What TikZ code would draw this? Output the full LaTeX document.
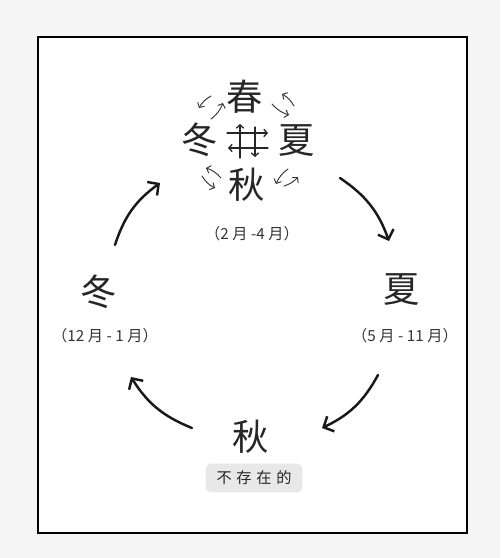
\documentclass[tikz,border=0pt]{standalone}
\usepackage{fontspec}
\newfontfamily\cjk{Noto Sans CJK SC}
\usetikzlibrary{arrows.meta}

\newcommand{\gp}{\hspace{3pt}}

\begin{document}
\begin{tikzpicture}[x=0.03cm, y=-0.03cm, line cap=round,
    big/.style={font=\cjk\fontsize{31}{31}\selectfont, text=black!85, inner sep=0pt},
    months/.style={font=\cjk\fontsize{13}{13}\selectfont, text=black!80, inner sep=0pt},
    note/.style={font=\cjk\fontsize{13}{13}\selectfont, text=black!85, fill=gray!18,
        rounded corners=5pt, minimum width=97*0.85pt, minimum height=29*0.85pt},
    cycle/.style={-{Straight Barb[length=2.4mm, width=5mm]}, line width=2.1pt, black!90},
    tiny/.style={-{Straight Barb[length=1.1mm, width=2.4mm]}, line width=0.8pt, black!80},
    hash/.style={-{Straight Barb[length=1mm, width=2.2mm]}, line width=1.1pt, black!85}]

            % page and frame
            \fill[gray!8] (0,0) rectangle (500,558);
            \draw[line width=2.4pt, fill=white] (38,37) rectangle (467,533);

            % spring cluster
            \node[big] (sprC) at (245,97) {春};
            \node[big] (sumC) at (297,141) {夏};
            \node[big] (autC) at (247,185) {秋};
            \node[big] (winC) at (200,140) {冬};
            \node[months] (sprM) at (252,234) {（2\gp 月\gp -4\gp 月）};

            \draw[hash] (227,133) -- (268,133);
            \draw[hash] (268,148) -- (228,148);
            \draw[hash] (240,158) -- (240,124);
            \draw[hash] (255,127) -- (255,157);

            \draw[tiny] (211,96) to[bend right=15] (199,108);
            \draw[tiny] (211,119) to[bend right=15] (223,103);
            \draw[tiny] (294,106) to[bend right=15] (282,94);
            \draw[tiny] (272,104) to[bend right=15] (289,115);
            \draw[tiny] (221,178) to[bend right=15] (206,168);
            \draw[tiny] (202,176) to[bend right=15] (215,188);
            \draw[tiny] (288,169) to[bend right=15] (276,184);
            \draw[tiny] (284,186) to[bend right=15] (298,177);

            % the other seasons
            \node[big] (sum) at (402,290) {夏};
            \node[months] (sumM) at (405,336) {（5\gp 月\gp -\gp 11\gp 月）};
            \node[big] (win) at (99,292) {冬};
            \node[months] (winM) at (105,336) {（12\gp 月\gp -\gp 1\gp 月）};
            \node[big] (aut) at (251,437) {秋};
            \node[note] (autN) at (254,478) {不\hspace{4pt}存\hspace{4pt}在\hspace{4pt}的};

            % big arrows
            \coordinate (w2sA) at (115,245);
            \coordinate (w2sB) at (160,183);
            \coordinate (s2uA) at (340,178);
            \coordinate (s2uB) at (389,241);
            \coordinate (u2aA) at (378,375);
            \coordinate (u2aB) at (322,428);
            \coordinate (a2wA) at (192,428);
            \coordinate (a2wB) at (131,377);
            \draw[cycle] (w2sA) to[bend left=18] (w2sB);
            \draw[cycle] (s2uA) to[bend left=18] (s2uB);
            \draw[cycle] (u2aA) to[bend left=18] (u2aB);
            \draw[cycle] (a2wA) to[bend left=18] (a2wB);
\end{tikzpicture}
\end{document}
